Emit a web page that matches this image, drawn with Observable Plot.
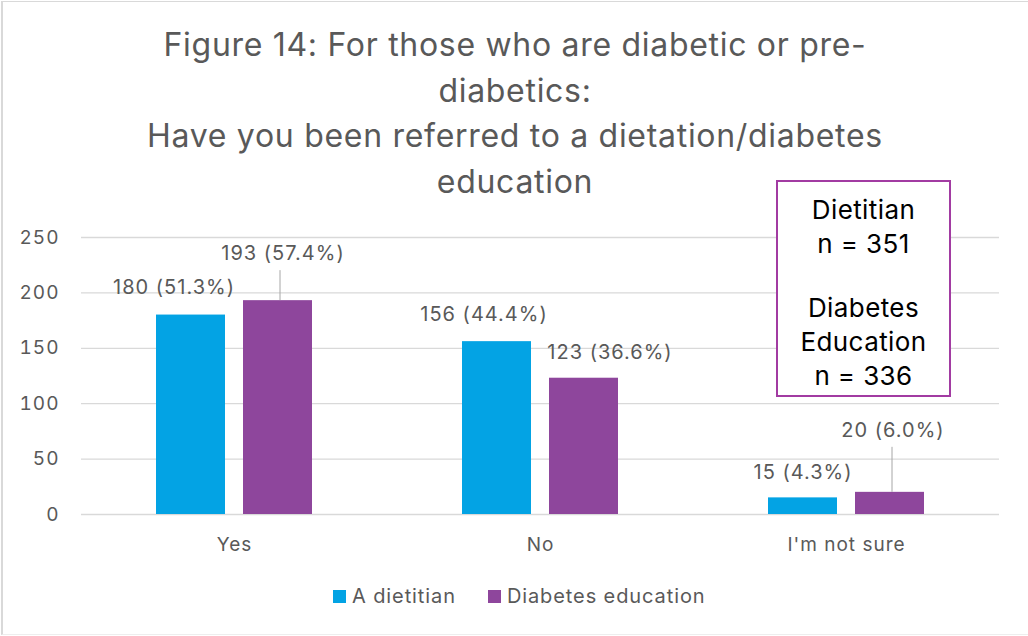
<!DOCTYPE html>
<html>
<head>
<meta charset="utf-8">
<script src="https://cdn.jsdelivr.net/npm/d3@7"></script>
<script src="https://cdn.jsdelivr.net/npm/@observablehq/plot@0.6"></script>
<style>
  html, body { margin: 0; padding: 0; background: #fff; }
  body { font-family: "Inter", "Open Sans", sans-serif; }
  #wrap { position: relative; width: 1028px; height: 636px; overflow: hidden; background: #fff; }
  #frame { position: absolute; left: 1px; top: 1px; width: 1100px; height: 634px; border-top: 1.5px solid #D9D9D9; border-left: 2px solid #D9D9D9; border-bottom: 1px solid #EEEEEE; box-sizing: border-box; }
  #chart { position: absolute; left: 0; top: 0; }
  #title { position: absolute; left: 0; top: 22px; width: 1030px; text-align: center; color: #595959; font-size: 32px; letter-spacing: 0.7px; line-height: 45.5px; }
  #nbox { position: absolute; left: 776px; top: 180px; width: 175px; height: 217px; box-sizing: border-box; border: 2px solid #A23BA2; background: #fff; color: #000; font-size: 26px; letter-spacing: 0.4px; line-height: 34px; text-align: center; padding-top: 11px; }
  #legend { position: absolute; left: 333px; top: 584px; color: #595959; font-size: 20px; letter-spacing: 0.9px; display: flex; align-items: center; white-space: nowrap; }
  .sw { display: inline-block; width: 13px; height: 13px; margin-right: 6px; }
  .item { display: flex; align-items: center; margin-right: 32px; }
</style>
</head>
<body>
<div id="wrap">
  <div id="frame"></div>
  <div id="chart"></div>
  <div id="title"></div>
  <div id="nbox"></div>
  <div id="legend"></div>
</div>
<script>
// ---- data ----
const categories = ["Yes", "No", "I'm not sure"];
const series = ["A dietitian", "Diabetes education"];
const dietitianCounts = [180, 156, 15];
const dietitianPct = ["51.3%", "44.4%", "4.3%"];
const diabetesEdCounts = [193, 123, 20];
const diabetesEdPct = ["57.4%", "36.6%", "6.0%"];
const yTicks = [0, 50, 100, 150, 200, 250];
const titleLines = [
  "Figure 14: For those who are diabetic or pre-",
  "diabetics:",
  "Have you been referred to a dietation/diabetes",
  "education"
];
const sampleLabels = ["Dietitian", "Diabetes Education"];
const sampleSizes = [351, 336];
const colors = ["#03A3E4", "#8E469C"];

// ---- table built from arrays ----
const rows = [];
categories.forEach((c, i) => {
  rows.push({category: c, series: series[0], value: dietitianCounts[i], label: `${dietitianCounts[i]} (${dietitianPct[i]})`});
  rows.push({category: c, series: series[1], value: diabetesEdCounts[i], label: `${diabetesEdCounts[i]} (${diabetesEdPct[i]})`});
});

// label placement tweaks (pixels), mimicking the reference's manual label layout
const nudge = {
  "Yes|A dietitian": [-17, -27, false],
  "Yes|Diabetes education": [5, -47, true],
  "No|A dietitian": [-13, -27, false],
  "No|Diabetes education": [26, -26, false],
  "I'm not sure|A dietitian": [0, -25, false],
  "I'm not sure|Diabetes education": [3, -62, true]
};

const font = "Inter, 'Open Sans', sans-serif";

const labelMarks = [];
rows.forEach(d => {
  const [dx, dy, leader] = nudge[`${d.category}|${d.series}`];
  if (leader) {
    labelMarks.push(Plot.ruleX([d], {
      fx: "category", x: "series", y1: "value", y2: "value",
      insetTop: dy + 17, insetBottom: 0, dx: 2,
      stroke: "#A6A6A6", strokeWidth: 1
    }));
  }
  labelMarks.push(Plot.text([d], {
    fx: "category", x: "series", y: "value", text: "label",
    dx, dy, fill: "#595959", fontSize: 20, textAnchor: "middle", lineAnchor: "middle",
    letterSpacing: "0.8px"
  }));
});

const chart = Plot.plot({
  width: 1028,
  height: 636,
  marginTop: 237,
  marginBottom: 122,
  marginLeft: 81,
  marginRight: 29,
  style: {fontFamily: font, fontSize: "19px", color: "#595959", background: "transparent", overflow: "visible", letterSpacing: "1px"},
  fx: {domain: categories, padding: 0, label: null, axis: "bottom", tickSize: 0, tickPadding: 23, fontSize: 21},
  x: {domain: series, paddingInner: 0.207, paddingOuter: 0.862, axis: null},
  y: {domain: [0, 250], ticks: yTicks, label: null, axis: "left", tickSize: 0, tickPadding: 22, grid: false},
  color: {domain: series, range: colors},
  marks: [
    Plot.ruleY(yTicks, {stroke: "#D9D9D9", strokeWidth: 1.3}),
    Plot.barY(rows, {fx: "category", x: "series", y: "value", fill: "series"}),
    ...labelMarks
  ]
});
document.getElementById("chart").appendChild(chart);

// title
document.getElementById("title").innerHTML = titleLines.map(s => `<div>${s}</div>`).join("");

// sample-size box
const [l1, l2] = sampleLabels;
const l2parts = l2.split(" ");
document.getElementById("nbox").innerHTML =
  `<div>${l1}</div><div>n = ${sampleSizes[0]}</div><div style="height:30px"></div>` +
  l2parts.map(p => `<div>${p}</div>`).join("") + `<div>n = ${sampleSizes[1]}</div>`;

// legend
document.getElementById("legend").innerHTML = series.map((s, i) =>
  `<span class="item"><span class="sw" style="background:${colors[i]}"></span>${s}</span>`).join("");
</script>
</body>
</html>
